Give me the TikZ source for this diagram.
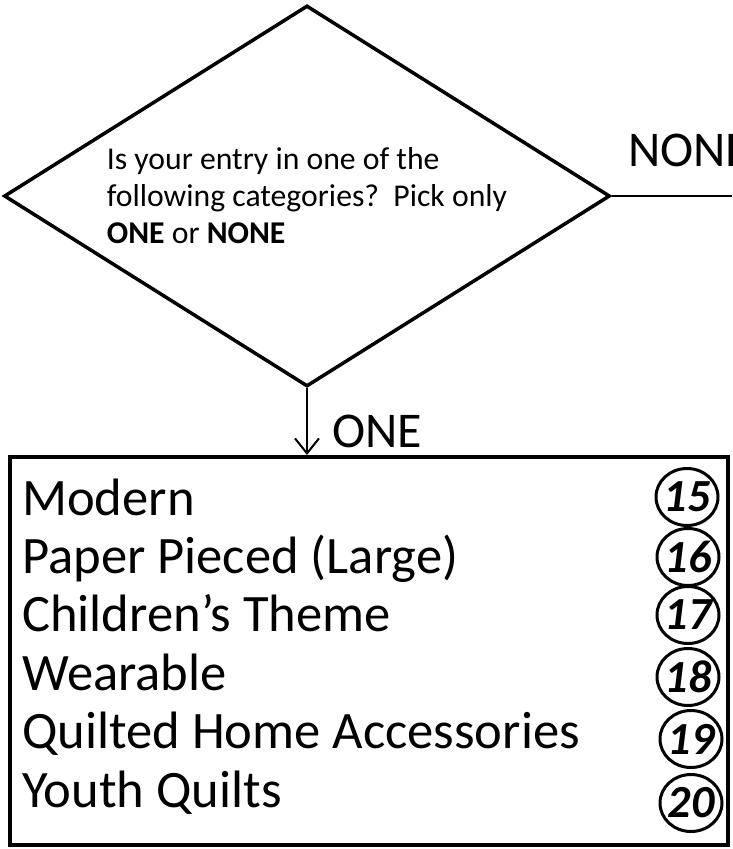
\documentclass[tikz,border=0pt]{standalone}
\usepackage{fontspec}
\setmainfont{Carlito}
\usetikzlibrary{positioning, shapes.geometric, arrows.meta}

\begin{document}
\begin{tikzpicture}[x=1pt, y=-1pt,
    decision/.style={diamond, draw, line width=3.5pt, shape aspect=1.59, minimum width=606pt, minimum height=381pt, inner sep=0pt, align=left, font=\fontsize{31.7}{37}\selectfont},
    listbox/.style={draw, line width=4pt, minimum width=718pt, minimum height=388pt, inner sep=0pt},
    catitem/.style={anchor=base west, inner sep=0pt, font=\fontsize{52.6}{58}\selectfont},
    badge/.style={ellipse, draw, line width=3pt, minimum width=62pt, minimum height=57pt, inner sep=-5pt, font=\fontsize{46}{46}\selectfont\bfseries\itshape},
    edgelabel/.style={anchor=base west, inner sep=0pt, font=\fontsize{50}{56}\selectfont},
    >={Straight Barb[length=15pt, width=24pt]},
]
    \useasboundingbox (0,0) rectangle (732,849);

    %nodes
    \node[decision] (question) at (307,196) {Is your entry in one of the\\following categories?\ \ Pick only\\\textbf{ONE} or \textbf{NONE}};
    \node[listbox] (categories) at (369,651) {};
    \coordinate (none_end) at (732,196);

    % labels
    \node[edgelabel] (none_label) at (628,166) {NONE};
    \node[edgelabel] (one_label) at (332,447) {ONE};

    % categories
    \foreach \n/\t/\cx/\cy [count=\i from 0] in {15/Modern/687/497, 16/Paper Pieced (Large)/688/557, 17/Children’s Theme/688/615, 18/Wearable/688/677, 19/Quilted Home Accessories/691/739, 20/Youth Quilts/691/803} {
        \node[catitem] (cat\n) at (22, 515+58.4*\i) {\t};
        \node[badge] (num\n) at (\cx,\cy) {\n};
    }

    % connections
    \draw[line width=2.5pt] (question.east) -- (none_end);
    \draw[->, line width=2pt] (question.south) -- (question.south |- categories.north);
\end{tikzpicture}
\end{document}
